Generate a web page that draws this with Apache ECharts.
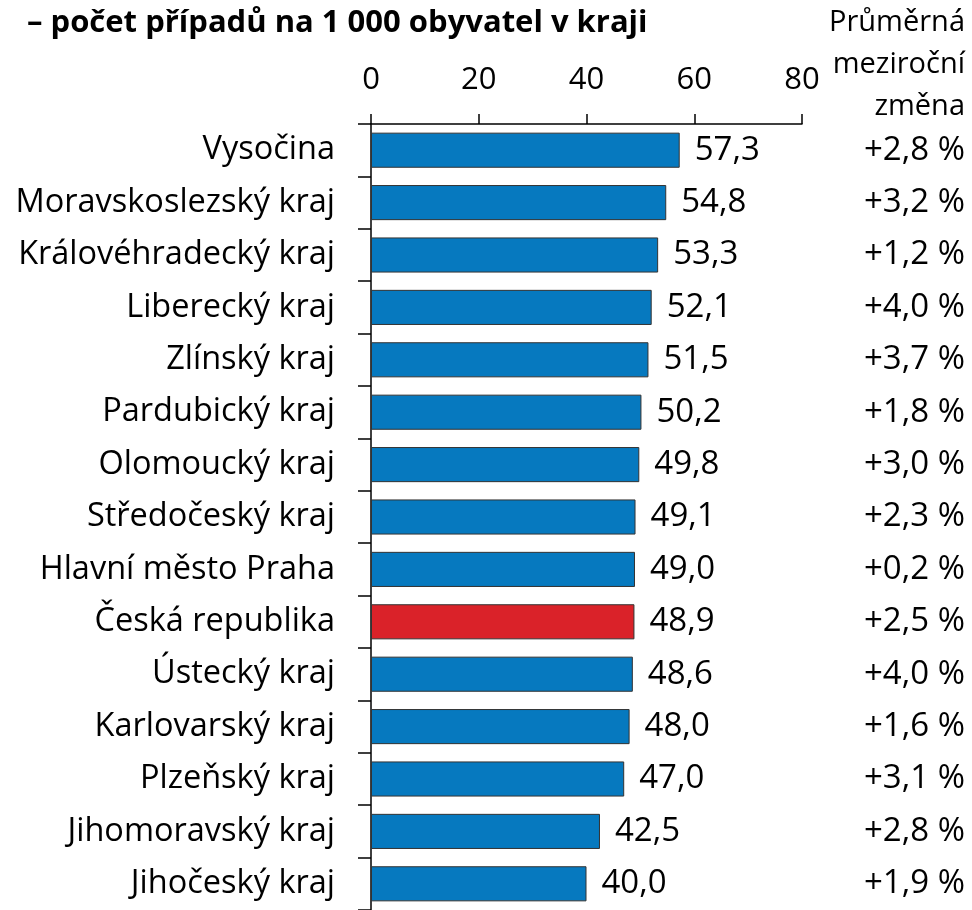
<!DOCTYPE html>
<html>
<head>
<meta charset="utf-8">
<script src="https://cdn.jsdelivr.net/npm/echarts@6/dist/echarts.min.js"></script>
<style>
    html, body { margin: 0; padding: 0; background: #fff; }
    #chart { width: 972px; height: 910px; }
</style>
</head>
<body>
<div id="chart"></div>
<script>
// kraje, seřazeno sestupně
const regions = ['Vysočina', 'Moravskoslezský kraj', 'Královéhradecký kraj', 'Liberecký kraj', 'Zlínský kraj',
    'Pardubický kraj', 'Olomoucký kraj', 'Středočeský kraj', 'Hlavní město Praha', 'Česká republika',
    'Ústecký kraj', 'Karlovarský kraj', 'Plzeňský kraj', 'Jihomoravský kraj', 'Jihočeský kraj']
const perThousand = [57.3, 54.8, 53.3, 52.1, 51.5, 50.2, 49.8, 49.1, 49.0, 48.9, 48.6, 48.0, 47.0, 42.5, 40.0]
const avgChange = [2.8, 3.2, 1.2, 4.0, 3.7, 1.8, 3.0, 2.3, 0.2, 2.5, 4.0, 1.6, 3.1, 2.8, 1.9]
const xTicks = [0, 20, 40, 60, 80]
const headerLines = ['Průměrná', 'meziroční', 'změna']

const FONT = '"Open Sans"'
const blue = '#0679BF'
const red = '#DA2229'
const fmt = (v, d) => v.toFixed(d).replace('.', ',')

const chart = echarts.init(document.getElementById('chart'))

const barData = perThousand.map((v, i) => ({
    value: v,
    itemStyle: { color: regions[i] === 'Česká republika' ? red : blue }
}))

// hlavička pravého sloupce, každý řádek zvlášť kvůli zarovnání doprava
const header = headerLines.map((t, i) => ({
    type: 'text', right: 7, top: 8 + i * 42,
    style: { text: t, font: '29px ' + FONT, fill: '#000' }
}))

chart.setOption({
    animation: false,
    textStyle: { fontFamily: FONT, color: '#000' },
    grid: { left: 371, top: 124, width: 431, height: 789 },
    graphic: [
        {
            type: 'text', left: 27, top: 8,
            style: { text: '– počet případů na 1 000 obyvatel v kraji', font: 'bold 31px ' + FONT, fill: '#000' }
        },
        ...header
    ],
    xAxis: {
        type: 'value', position: 'top', min: xTicks[0], max: xTicks[xTicks.length - 1], interval: 20,
        axisLine: { show: true, lineStyle: { color: '#000', width: 1.5 } },
        axisTick: { show: true, length: 10, lineStyle: { color: '#000', width: 1.5 } },
        axisLabel: { fontSize: 31, color: '#000', margin: 28, fontFamily: FONT },
        splitLine: { show: false }
    },
    yAxis: [
        {
            type: 'category', inverse: true, data: regions,
            axisLine: { show: true, lineStyle: { color: '#000', width: 1.5 } },
            axisTick: { show: true, length: 13, lineStyle: { color: '#000', width: 1.5 } },
            axisLabel: { fontSize: 32.5, color: '#000', margin: 36, fontFamily: FONT }
        },
        {
            type: 'category', inverse: true, position: 'right', data: avgChange.map(v => '+' + fmt(v, 1) + ' %'),
            axisLine: { show: false }, axisTick: { show: false },
            axisLabel: { fontSize: 33, color: '#000', margin: 163, align: 'right', fontFamily: FONT }
        }
    ],
    series: [{
        type: 'bar', data: barData, barCategoryGap: '33%',
        itemStyle: { borderColor: '#333', borderWidth: 1 },
        label: {
            show: true, position: 'right', distance: 15, fontSize: 33, color: '#000', fontFamily: FONT,
            formatter: p => fmt(p.value, 1)
        }
    }]
})
</script>
</body>
</html>
